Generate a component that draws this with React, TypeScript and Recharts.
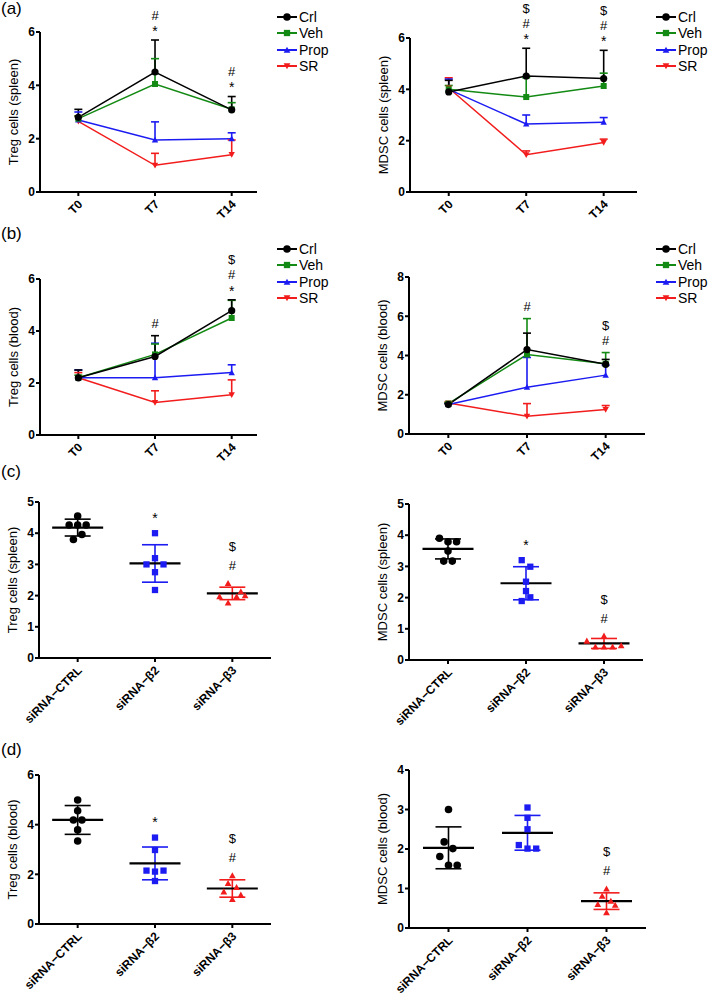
import React from 'react';
import { LineChart, Line, XAxis, YAxis, ErrorBar, Legend, ReferenceDot, ScatterChart, Scatter } from 'recharts';

const FONT = '"Liberation Sans", Arial, Helvetica, sans-serif';

// ---------- categories / labels ----------
const timepoints = ['T0', 'T7', 'T14'];
const sirnaGroups = ['siRNA\u2212CTRL', 'siRNA\u2212\u03b22', 'siRNA\u2212\u03b23'];
const seriesNames = ['Crl', 'Veh', 'Prop', 'SR'];

// ---------- (a) Treg cells (spleen) ----------
const aTregCrl = [2.8, 4.5, 3.08];
const aTregCrlErr = [0.3, 1.2, 0.5];
const aTregVeh = [2.75, 4.05, 3.1];
const aTregVehErr = [0.1, 0.95, 0.25];
const aTregProp = [2.7, 1.95, 2.0];
const aTregPropErr = [0.3, 0.68, 0.22];
const aTregSR = [2.65, 1.0, 1.4];
const aTregSRErr = [0.2, 0.45, 0.55];
const aTregMarks = [[], ['*', '#'], ['*', '#']];

// ---------- (a) MDSC cells (spleen) ----------
const aMdscCrl = [3.9, 4.52, 4.42];
const aMdscCrlErr = [0.45, 1.08, 1.1];
const aMdscVeh = [4.0, 3.7, 4.13];
const aMdscVehErr = [0.15, 0.75, 0.5];
const aMdscProp = [4.0, 2.65, 2.72];
const aMdscPropErr = [0.4, 0.35, 0.18];
const aMdscSR = [4.05, 1.45, 1.93];
const aMdscSRErr = [0.4, 0.15, 0.13];
const aMdscMarks = [[], ['*', '#', '$'], ['*', '#', '$']];

// ---------- (b) Treg cells (blood) ----------
const bTregCrl = [2.2, 3.02, 4.78];
const bTregCrlErr = [0.3, 0.8, 0.42];
const bTregVeh = [2.2, 3.1, 4.5];
const bTregVehErr = [0.1, 0.4, 0.68];
const bTregProp = [2.2, 2.2, 2.4];
const bTregPropErr = [0.3, 1.33, 0.3];
const bTregSR = [2.2, 1.25, 1.55];
const bTregSRErr = [0.2, 0.45, 0.57];
const bTregMarks = [[], ['#'], ['*', '#', '$']];

// ---------- (b) MDSC cells (blood) ----------
const bMdscCrl = [1.5, 4.3, 3.55];
const bMdscCrlErr = [0.05, 0.84, 0.25];
const bMdscVeh = [1.55, 4.05, 3.58];
const bMdscVehErr = [0.05, 1.83, 0.57];
const bMdscProp = [1.5, 2.38, 3.0];
const bMdscPropErr = [0.05, 1.52, 0.5];
const bMdscSR = [1.58, 0.9, 1.25];
const bMdscSRErr = [0.05, 0.65, 0.2];
const bMdscMarks = [[], ['#'], ['#', '$']];

// ---------- (c) Treg cells (spleen), siRNA ----------
const cTregCtrl = [4.55, 4.26, 4.26, 4.26, 3.96, 3.8];
const cTregB2 = [4.0, 3.2, 3.0, 3.0, 2.75, 2.18];
const cTregB3 = [2.39, 2.13, 1.97, 1.97, 2.0, 1.77];
const cTregMean = [4.18, 3.03, 2.07];
const cTregSd = [0.27, 0.6, 0.2];
const cTregSpread = [[0, -1, 0, 1, 0.5, -0.5], [0, 0, -1, 1, 0, 0], [-0.5, 1, -1.5, 0.5, 1.5, -0.5]];
const cTregMarks = [[], ['*'], ['#', '$']];

// ---------- (c) MDSC cells (spleen), siRNA ----------
const cMdscCtrl = [3.9, 3.79, 3.79, 3.49, 3.17, 3.17];
const cMdscB2 = [3.2, 2.99, 2.51, 2.21, 2.01, 1.89];
const cMdscB3 = [0.61, 0.77, 0.42, 0.42, 0.42, 0.46];
const cMdscMean = [3.56, 2.46, 0.53];
const cMdscSd = [0.32, 0.53, 0.16];
const cMdscSpread = [[-1, 0, 1, 0, -0.5, 0.5], [-0.5, 0.5, 0, 0, 0.5, -0.5], [-2, 0, -1, 0, 1, 2]];
const cMdscMarks = [[], ['*'], ['#', '$']];

// ---------- (d) Treg cells (blood), siRNA ----------
const dTregCtrl = [4.99, 4.56, 4.19, 4.19, 3.79, 3.34];
const dTregB2 = [3.48, 2.98, 2.15, 2.15, 2.11, 1.73];
const dTregB3 = [1.95, 1.64, 1.48, 1.3, 1.17, 0.99];
const dTregMean = [4.19, 2.44, 1.43];
const dTregSd = [0.58, 0.66, 0.35];
const dTregSpread = [[0, 0, -0.5, 0.5, 0, 0], [0, 0, -1, 1, 0, 0], [0, -0.5, 0.5, -1, 1, 0]];
const dTregMarks = [[], ['*'], ['#', '$']];

// ---------- (d) MDSC cells (blood), siRNA ----------
const dMdscCtrl = [3.0, 2.18, 2.01, 1.81, 1.59, 1.59];
const dMdscB2 = [3.05, 2.79, 2.5, 2.1, 2.01, 2.01];
const dMdscB3 = [0.99, 0.81, 0.68, 0.6, 0.58, 0.39];
const dMdscMean = [2.03, 2.41, 0.68];
const dMdscSd = [0.53, 0.44, 0.21];
const dMdscSpread = [[0, -0.5, 0.5, -1, 0, 1], [0, 0, 0, -1, 0, 1], [0, -0.5, 0.5, -1, 1, 0]];
const dMdscMarks = [[], [], ['#', '$']];

// ---------- styles ----------
const SERIES = [
  { key: 'crl', color: '#000000', marker: 'circle' },
  { key: 'veh', color: '#138a13', marker: 'square' },
  { key: 'prop', color: '#1c1cf2', marker: 'triUp' },
  { key: 'sr', color: '#f21c1c', marker: 'triDown' },
];
const GROUP_STYLE = [
  { color: '#000000', marker: 'circle' },
  { color: '#1c1cf2', marker: 'square' },
  { color: '#f21c1c', marker: 'triUp' },
];
const SPREAD_UNIT = 0.11;

type Box = { left: number; top: number; width: number; height: number };
type Plot = { left: number; top: number; right: number; bottom: number };

function Marker({ kind, cx, cy, color, s = 1 }: any) {
  if (kind === 'circle') return <circle cx={cx} cy={cy} r={3.6 * s} fill={color} />;
  if (kind === 'square') return <rect x={cx - 3 * s} y={cy - 3 * s} width={6 * s} height={6 * s} fill={color} />;
  const h = 3.2 * s;
  if (kind === 'triUp')
    return <polygon points={`${cx},${cy - h} ${cx + h},${cy + h * 0.8} ${cx - h},${cy + h * 0.8}`} fill={color} />;
  return <polygon points={`${cx},${cy + h} ${cx + h},${cy - h * 0.8} ${cx - h},${cy - h * 0.8}`} fill={color} />;
}

function RotTick(props: any) {
  const { x, y, payload, labels } = props;
  const px = x + 5;
  const py = y + 7;
  return (
    <text x={px} y={py} transform={`rotate(-45 ${px} ${py})`} textAnchor="end" fontSize={12} fontWeight="bold"
      fontFamily={FONT} fill="#000">
      {labels[payload.value]}
    </text>
  );
}

function yLabelContent(text: string) {
  return (props: any) => {
    const vb = props.viewBox || {};
    const axisX = vb.x + vb.width;
    const cy = vb.y + vb.height / 2;
    const bx = axisX - 22;
    return (
      <text x={bx} y={cy} transform={`rotate(-90 ${bx} ${cy})`} textAnchor="middle" fontSize={13} fontFamily={FONT}
        fill="#000">
        {text}
      </text>
    );
  };
}

function annoShape(symbols: string[], gap: number, step: number) {
  return (p: any) => (
    <g>
      {symbols.map((s, i) => {
        const c = p.cy - gap - step * i - (s === '$' ? 2 : 0);
        const base = s === '*' ? c + 7.8 : c + 4.6;
        return (
          <text key={i} x={p.cx} y={base} textAnchor="middle" fontSize={s === '*' ? 14 : 13} fontFamily={FONT}
            fill="#000">
            {s}
          </text>
        );
      })}
    </g>
  );
}

function LegendBox() {
  return (
    <div style={{ fontFamily: FONT, fontSize: 14, color: '#000' }}>
      {SERIES.map((s, i) => (
        <div key={s.key} style={{ display: 'flex', alignItems: 'center', height: 16.3, whiteSpace: 'nowrap' }}>
          <svg width={22} height={12} style={{ display: 'block' }}>
            <line x1={0} y1={6} x2={20} y2={6} stroke={s.color} strokeWidth={2} />
            <Marker kind={s.marker} cx={10} cy={6} color={s.color} s={1.05} />
          </svg>
          <span>{seriesNames[i]}</span>
        </div>
      ))}
    </div>
  );
}

function frame(box: Box, plot: Plot, xAxisH: number) {
  return {
    margin: {
      top: plot.top - box.top,
      right: box.left + box.width - plot.right,
      bottom: box.top + box.height - plot.bottom - xAxisH,
      left: 0,
    },
    yAxisW: plot.left - box.left,
  };
}

const axisLine = { stroke: '#000', strokeWidth: 2 };
const yTickStyle = { fontSize: 12, fontWeight: 'bold', fill: '#000', fontFamily: FONT };

function LinePanel(props: {
  box: Box; plot: Plot; xMax: number; yMax: number; yTicks: number[];
  means: number[][]; errs: number[][]; marks: string[][]; yLabel: string; legend: { left: number; top: number };
}) {
  const { box, plot, xMax, yMax, yTicks, means, errs, marks, yLabel, legend } = props;
  const xAxisH = 20;
  const { margin, yAxisW } = frame(box, plot, xAxisH);
  const rows = timepoints.map((t, i) => {
    const row: any = { x: i, label: t };
    SERIES.forEach((s, k) => {
      row[s.key] = means[k][i];
      row[s.key + 'Err'] = [0, errs[k][i]];
      row[s.key + 'Top'] = means[k][i] + errs[k][i];
    });
    return row;
  });
  const tops = timepoints.map((_, i) => Math.max(...SERIES.map((s, k) => means[k][i] + errs[k][i])));
  const order = [3, 2, 1, 0];
  return (
    <div style={{ position: 'absolute', left: box.left, top: box.top }}>
      <LineChart width={box.width} height={box.height} data={rows} margin={margin}>
        <XAxis type="number" dataKey="x" domain={[-0.5, xMax]} ticks={[0, 1, 2]} interval={0} height={xAxisH}
          axisLine={axisLine} tickLine={axisLine} tickSize={4}
          tick={(p: any) => <RotTick {...p} labels={timepoints} />} />
        <YAxis type="number" domain={[0, yMax]} ticks={yTicks} interval={0} width={yAxisW} axisLine={axisLine}
          tickLine={axisLine} tickSize={4} tickMargin={1} tick={yTickStyle}
          label={{ value: yLabel, content: yLabelContent(yLabel) }} />
        <Legend layout="vertical" align="center" verticalAlign="middle"
          wrapperStyle={{ left: legend.left - box.left, top: legend.top - box.top, width: 80, height: 70 }}
          content={() => <LegendBox />} />
        {order.map((k) => {
          const s = SERIES[k];
          return (
            <Line key={s.key + 'cap'} dataKey={s.key + 'Top'} stroke="none" isAnimationActive={false} legendType="none"
              activeDot={false}
              dot={(p: any) => (
                <line key={`${s.key}cap${p.index}`} x1={p.cx - 4} x2={p.cx + 4} y1={p.cy} y2={p.cy} stroke={s.color}
                  strokeWidth={1.6} />
              )} />
          );
        })}
        {order.map((k) => {
          const s = SERIES[k];
          return (
            <Line key={s.key} dataKey={s.key} stroke={s.color} strokeWidth={1.5} isAnimationActive={false}
              activeDot={false}
              dot={(p: any) => <Marker key={`${s.key}dot${p.index}`} kind={s.marker} cx={p.cx} cy={p.cy} color={s.color} />}>
              <ErrorBar dataKey={s.key + 'Err'} direction="y" width={0} stroke={s.color} strokeWidth={1.6} />
            </Line>
          );
        })}
        {marks.map((m, i) =>
          m.length ? (
            <ReferenceDot key={'m' + i} x={i} y={tops[i]} r={0} ifOverflow="visible" shape={annoShape(m, 12, 13)} />
          ) : null
        )}
      </LineChart>
    </div>
  );
}

function ScatterPanel(props: {
  box: Box; plot: Plot; yMax: number; yTicks: number[]; values: number[][]; spread: number[][];
  mean: number[]; sd: number[]; marks: string[][]; yLabel: string;
}) {
  const { box, plot, yMax, yTicks, values, spread, mean, sd, marks, yLabel } = props;
  const xAxisH = 20;
  const { margin, yAxisW } = frame(box, plot, xAxisH);
  const pointRows = values.map((vals, g) => vals.map((v, i) => ({ x: g + spread[g][i] * SPREAD_UNIT, y: v })));
  const meanRows = mean.map((m, g) => [{ x: g, y: m, sd: sd[g] }]);
  const tops = values.map((vals, g) => Math.max(...vals, mean[g] + sd[g]));
  return (
    <div style={{ position: 'absolute', left: box.left, top: box.top }}>
      <ScatterChart width={box.width} height={box.height} margin={margin}>
        <XAxis type="number" dataKey="x" domain={[-0.5, 2.5]} ticks={[0, 1, 2]} interval={0} height={xAxisH}
          axisLine={axisLine} tickLine={axisLine} tickSize={4}
          tick={(p: any) => <RotTick {...p} labels={sirnaGroups} />} />
        <YAxis type="number" dataKey="y" domain={[0, yMax]} ticks={yTicks} interval={0} width={yAxisW}
          axisLine={axisLine} tickLine={axisLine} tickSize={4} tickMargin={1} tick={yTickStyle}
          label={{ value: yLabel, content: yLabelContent(yLabel) }} />
        {meanRows.map((rows, g) => (
          <Scatter key={'mean' + g} data={rows} isAnimationActive={false}
            shape={(p: any) => (
              <line x1={p.cx - 25.5} x2={p.cx + 25.5} y1={p.cy} y2={p.cy} stroke="#000" strokeWidth={2.2} />
            )}>
            <ErrorBar dataKey="sd" direction="y" width={13} stroke={GROUP_STYLE[g].color} strokeWidth={1.6} />
          </Scatter>
        ))}
        {pointRows.map((rows, g) => (
          <Scatter key={'pts' + g} data={rows} isAnimationActive={false}
            shape={(p: any) => (
              <Marker kind={GROUP_STYLE[g].marker} cx={p.cx} cy={p.cy} color={GROUP_STYLE[g].color} s={1.05} />
            )} />
        ))}
        {marks.map((m, i) =>
          m.length ? (
            <ReferenceDot key={'m' + i} x={i} y={tops[i]} r={0} ifOverflow="visible" shape={annoShape(m, 18, 17)} />
          ) : null
        )}
      </ScatterChart>
    </div>
  );
}

function PanelLabel({ text, top }: { text: string; top: number }) {
  return (
    <div style={{ position: 'absolute', left: 1, top, fontSize: 17, lineHeight: '17px', fontFamily: FONT, color: '#000' }}>
      {text}
    </div>
  );
}

export default function App() {
  return (
    <div style={{ position: 'absolute', left: 0, top: 0, width: 709, height: 996, background: '#fff', fontFamily: FONT, overflow: 'hidden' }}>
      <LinePanel box={{ left: 0, top: 0, width: 354, height: 235 }} plot={{ left: 40, top: 32, right: 257, bottom: 192 }}
        xMax={2.33} yMax={6} yTicks={[0, 2, 4, 6]}
        means={[aTregCrl, aTregVeh, aTregProp, aTregSR]} errs={[aTregCrlErr, aTregVehErr, aTregPropErr, aTregSRErr]}
        marks={aTregMarks} yLabel="Treg cells (spleen)" legend={{ left: 277, top: 9 }} />
      <LinePanel box={{ left: 354, top: 0, width: 355, height: 235 }} plot={{ left: 410, top: 38, right: 637, bottom: 192 }}
        xMax={2.43} yMax={6} yTicks={[0, 2, 4, 6]}
        means={[aMdscCrl, aMdscVeh, aMdscProp, aMdscSR]} errs={[aMdscCrlErr, aMdscVehErr, aMdscPropErr, aMdscSRErr]}
        marks={aMdscMarks} yLabel="MDSC cells (spleen)" legend={{ left: 656, top: 9 }} />
      <LinePanel box={{ left: 0, top: 225, width: 354, height: 250 }} plot={{ left: 40, top: 279, right: 257, bottom: 435 }}
        xMax={2.33} yMax={6} yTicks={[0, 2, 4, 6]}
        means={[bTregCrl, bTregVeh, bTregProp, bTregSR]} errs={[bTregCrlErr, bTregVehErr, bTregPropErr, bTregSRErr]}
        marks={bTregMarks} yLabel="Treg cells (blood)" legend={{ left: 277, top: 241 }} />
      <LinePanel box={{ left: 354, top: 225, width: 355, height: 250 }} plot={{ left: 409, top: 277, right: 645, bottom: 434 }}
        xMax={2.5} yMax={8} yTicks={[0, 2, 4, 6, 8]}
        means={[bMdscCrl, bMdscVeh, bMdscProp, bMdscSR]} errs={[bMdscCrlErr, bMdscVehErr, bMdscPropErr, bMdscSRErr]}
        marks={bMdscMarks} yLabel="MDSC cells (blood)" legend={{ left: 656, top: 241 }} />

      <ScatterPanel box={{ left: 0, top: 455, width: 354, height: 290 }} plot={{ left: 39, top: 502, right: 271, bottom: 658 }}
        yMax={5} yTicks={[0, 1, 2, 3, 4, 5]} values={[cTregCtrl, cTregB2, cTregB3]} spread={cTregSpread}
        mean={cTregMean} sd={cTregSd} marks={cTregMarks} yLabel="Treg cells (spleen)" />
      <ScatterPanel box={{ left: 354, top: 455, width: 355, height: 290 }} plot={{ left: 409, top: 504, right: 643, bottom: 660 }}
        yMax={5} yTicks={[0, 1, 2, 3, 4, 5]} values={[cMdscCtrl, cMdscB2, cMdscB3]} spread={cMdscSpread}
        mean={cMdscMean} sd={cMdscSd} marks={cMdscMarks} yLabel="MDSC cells (spleen)" />
      <ScatterPanel box={{ left: 0, top: 726, width: 354, height: 270 }} plot={{ left: 39, top: 775, right: 271, bottom: 924 }}
        yMax={6} yTicks={[0, 2, 4, 6]} values={[dTregCtrl, dTregB2, dTregB3]} spread={dTregSpread}
        mean={dTregMean} sd={dTregSd} marks={dTregMarks} yLabel="Treg cells (blood)" />
      <ScatterPanel box={{ left: 354, top: 726, width: 355, height: 270 }} plot={{ left: 409, top: 770, right: 646, bottom: 928 }}
        yMax={4} yTicks={[0, 1, 2, 3, 4]} values={[dMdscCtrl, dMdscB2, dMdscB3]} spread={dMdscSpread}
        mean={dMdscMean} sd={dMdscSd} marks={dMdscMarks} yLabel="MDSC cells (blood)" />

      <PanelLabel text="(a)" top={0} />
      <PanelLabel text="(b)" top={225} />
      <PanelLabel text="(c)" top={463} />
      <PanelLabel text="(d)" top={741} />
    </div>
  );
}
